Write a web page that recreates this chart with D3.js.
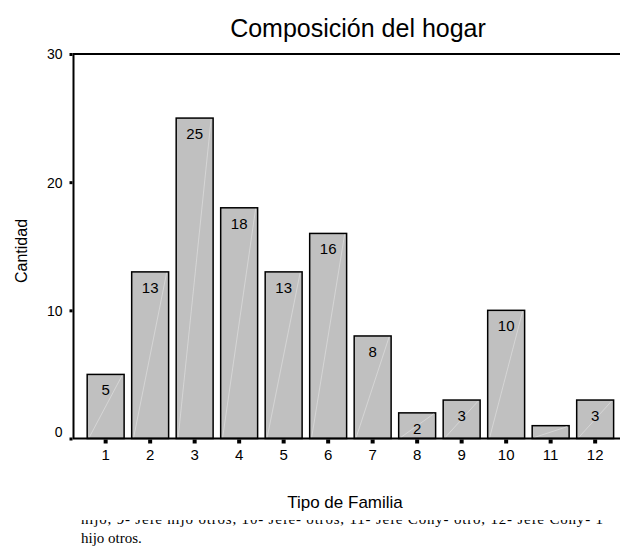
<!DOCTYPE html>
<html>
<head>
<meta charset="utf-8">
<script src="https://cdn.jsdelivr.net/npm/d3@7"></script>
<style>
  body { margin: 0; background: #fff; }
  text { font-family: Arial, "Liberation Sans", sans-serif; }
</style>
</head>
<body>
<div class="charts"><svg id="svg" width="620" height="546"></svg></div>
<script>
// data
var categories = ["1","2","3","4","5","6","7","8","9","10","11","12"];
var counts = [5, 13, 25, 18, 13, 16, 8, 2, 3, 10, 1, 3];
var yTicks = [0, 10, 20, 30];
var note1 = "hijo, 9- Jefe hijo otros, 10- Jefe- otros, 11- Jefe Cony- otro, 12- Jefe Cony- 1";
var note2 = "hijo otros.";

var data = categories.map(function(c, i) { return {cat: c, n: counts[i]}; });

var svg = d3.select("#svg"),
    plotLeft = 73.5, plotTop = 54, plotBottom = 438.5, plotRight = 620;

var x = d3.scaleBand().domain(categories).range([83.4, 617.4])
    .paddingInner(0.17).paddingOuter(0.085);
var y = d3.scaleLinear().domain([0, 30]).range([plotBottom, plotTop]);

// title
svg.append("text")
    .attr("x", 358).attr("y", 37)
    .attr("text-anchor", "middle")
    .style("font-size", "25px")
    .text("Composición del hogar");

// bars
var bars = svg.append("g");
bars.selectAll("rect")
    .data(data)
    .enter().append("rect")
    .attr("x", function(d) { return x(d.cat); })
    .attr("y", function(d) { return y(d.n); })
    .attr("width", x.bandwidth())
    .attr("height", function(d) { return y(0) - y(d.n); })
    .attr("fill", "#c0c0c0")
    .attr("stroke", "#000")
    .attr("stroke-width", 1.5);

// faint diagonal sheen in each bar
bars.selectAll("line.sheen")
    .data(data)
    .enter().append("line")
    .attr("class", "sheen")
    .attr("x1", function(d) { return x(d.cat) + 2; })
    .attr("y1", function(d) { return y(0) - 1; })
    .attr("x2", function(d) { return x(d.cat) + x.bandwidth() - 2; })
    .attr("y2", function(d) { return y(d.n) + 1; })
    .attr("stroke", "#dedede")
    .attr("stroke-width", 0.7);

// value labels (bar 11 has none in the original)
bars.selectAll("text")
    .data(data.filter(function(d) { return d.n > 1; }))
    .enter().append("text")
    .attr("x", function(d) { return x(d.cat) + x.bandwidth() / 2; })
    .attr("y", function(d) { return y(d.n) + 21; })
    .attr("text-anchor", "middle")
    .style("font-size", "15px")
    .text(function(d) { return d.n; });

// frame: left, top, bottom
svg.append("path")
    .attr("d", "M" + plotRight + "," + plotTop + "H" + plotLeft + "V" + plotBottom + "H" + plotRight)
    .attr("fill", "none")
    .attr("stroke", "#000")
    .attr("stroke-width", 2);

// y axis ticks
var yAxis = svg.append("g")
    .attr("transform", "translate(" + (plotLeft - 1) + ",0)")
    .call(d3.axisLeft(y).tickValues(yTicks).tickSize(3).tickPadding(7));
yAxis.select(".domain").remove();
yAxis.selectAll("line").attr("stroke-width", 3);
yAxis.selectAll("text")
    .style("font-size", "14px")
    .attr("font-family", null)
    .attr("dy", function(d) { return d === 0 ? "-0.15em" : "0.35em"; });

// x axis ticks
var xAxis = svg.append("g")
    .attr("transform", "translate(0," + (plotBottom + 1) + ")")
    .call(d3.axisBottom(x).tickSize(4).tickPadding(6));
xAxis.select(".domain").remove();
xAxis.selectAll("line").attr("stroke-width", 4);
xAxis.selectAll("text")
    .style("font-size", "15px")
    .attr("font-family", null);

// axis titles
svg.append("text")
    .attr("transform", "translate(27,251) rotate(-90)")
    .attr("text-anchor", "middle")
    .style("font-size", "16px")
    .text("Cantidad");

svg.append("text")
    .attr("x", 345).attr("y", 508)
    .attr("text-anchor", "middle")
    .style("font-size", "17px")
    .text("Tipo de Familia");

// caption text underneath, top of first line cut off
svg.append("clipPath").attr("id", "cut")
    .append("rect").attr("x", 0).attr("y", 520).attr("width", 620).attr("height", 40);

svg.append("text")
    .attr("clip-path", "url(#cut)")
    .attr("x", 81).attr("y", 524)
    .attr("textLength", 522)
    .attr("lengthAdjust", "spacing")
    .style("font-family", "'Liberation Serif', 'Times New Roman', serif")
    .style("font-size", "15px")
    .text(note1);

svg.append("text")
    .attr("x", 81).attr("y", 543)
    .style("font-family", "'Liberation Serif', 'Times New Roman', serif")
    .style("font-size", "15px")
    .text(note2);
</script>
</body>
</html>
